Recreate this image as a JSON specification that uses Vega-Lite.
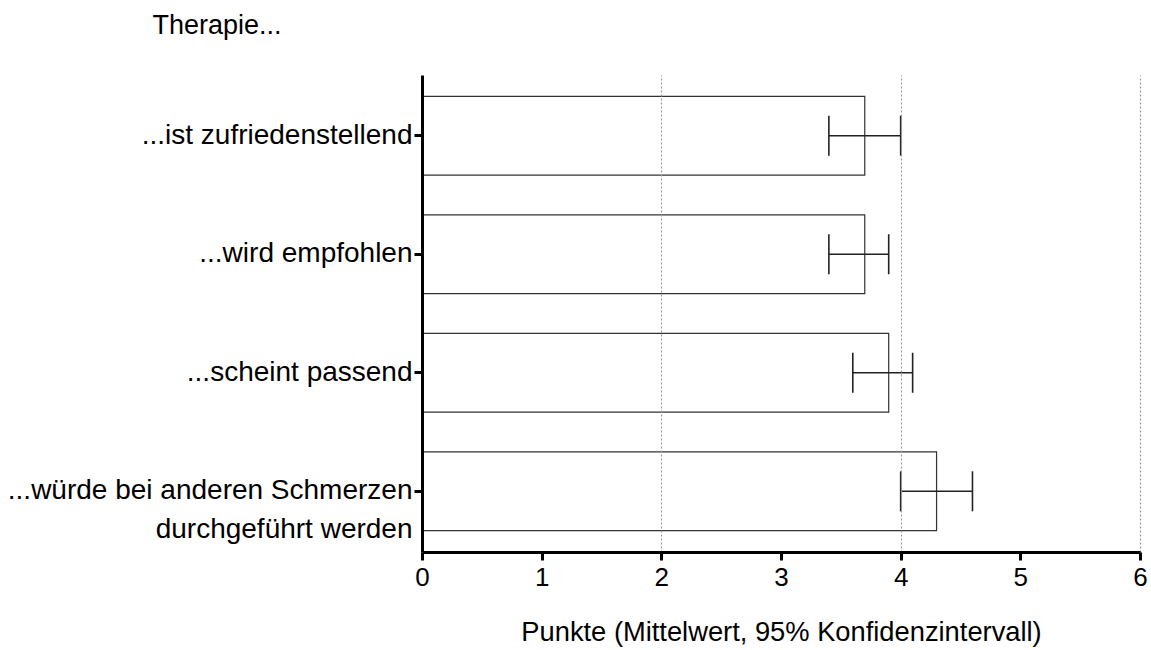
{
  "$schema": "https://vega.github.io/schema/vega-lite/v6.json",
  "autosize": {"type": "none"},
  "width": 718,
  "height": 477,
  "padding": {"left": 422, "top": 75, "right": 11, "bottom": 98},
  "background": "white",
  "config": {
    "font": "Liberation Sans",
    "view": {"stroke": null},
    "axis": {
      "labelFont": "Liberation Sans",
      "titleFont": "Liberation Sans",
      "labelColor": "black",
      "titleColor": "black",
      "titleFontWeight": "normal",
      "domainColor": "black",
      "tickColor": "black"
    }
  },
  "data": {
    "values": [
      {"item": "...ist zufriedenstellend", "mean": 3.7, "lo": 3.4, "hi": 4.0},
      {"item": "...wird empfohlen", "mean": 3.7, "lo": 3.4, "hi": 3.9},
      {"item": "...scheint passend", "mean": 3.9, "lo": 3.6, "hi": 4.1},
      {"item": "...würde bei anderen Schmerzen durchgeführt werden", "mean": 4.3, "lo": 4.0, "hi": 4.6}
    ]
  },
  "encoding": {
    "y": {
      "field": "item",
      "type": "nominal",
      "sort": null,
      "scale": {"paddingInner": 0.336, "paddingOuter": 0.18},
      "axis": {
        "title": "Therapie...",
        "titleAngle": 0,
        "titleX": -270,
        "titleY": -50,
        "titleAlign": "left",
        "titleBaseline": "middle",
        "titleFontSize": 27,
        "labelFontSize": 28,
        "labelLimit": 600,
        "labelPadding": 2,
        "labelLineHeight": 39,
        "labelExpr": "datum.value == '...würde bei anderen Schmerzen durchgeführt werden' ? ['...würde bei anderen Schmerzen', 'durchgeführt werden'] : datum.label",
        "domainWidth": 3,
        "tickWidth": 3,
        "tickSize": 8,
        "grid": false,
        "zindex": 2
      }
    }
  },
  "layer": [
    {
      "mark": {"type": "bar", "fill": "white", "stroke": "#333333", "strokeWidth": 1.2},
      "encoding": {
        "x": {
          "field": "mean",
          "type": "quantitative",
          "scale": {"domain": [0, 6], "nice": false, "zero": true},
          "axis": {
            "title": "Punkte (Mittelwert, 95% Konfidenzintervall)",
            "titleFontSize": 27.3,
            "titlePadding": 28,
            "labelFontSize": 26,
            "labelPadding": 4,
            "labelFlush": false,
            "values": [0, 1, 2, 3, 4, 5, 6],
            "format": "d",
            "domainWidth": 3,
            "tickWidth": 3,
            "tickSize": 8,
            "grid": true,
            "gridColor": "#999999",
            "gridDash": [2, 2],
            "gridWidth": 1.2,
            "gridOpacity": {"condition": {"test": "datum.value % 2 === 0 && datum.value > 0", "value": 1}, "value": 0},
            "zindex": 2
          }
        }
      }
    },
    {
      "mark": {"type": "rule", "stroke": "#222222", "strokeWidth": 1.6},
      "encoding": {
        "x": {"field": "lo", "type": "quantitative"},
        "x2": {"field": "hi"}
      }
    },
    {
      "mark": {"type": "tick", "orient": "vertical", "size": 40, "thickness": 1.6, "color": "#222222", "opacity": 1},
      "encoding": {
        "x": {"field": "lo", "type": "quantitative"}
      }
    },
    {
      "mark": {"type": "tick", "orient": "vertical", "size": 40, "thickness": 1.6, "color": "#222222", "opacity": 1},
      "encoding": {
        "x": {"field": "hi", "type": "quantitative"}
      }
    }
  ]
}
